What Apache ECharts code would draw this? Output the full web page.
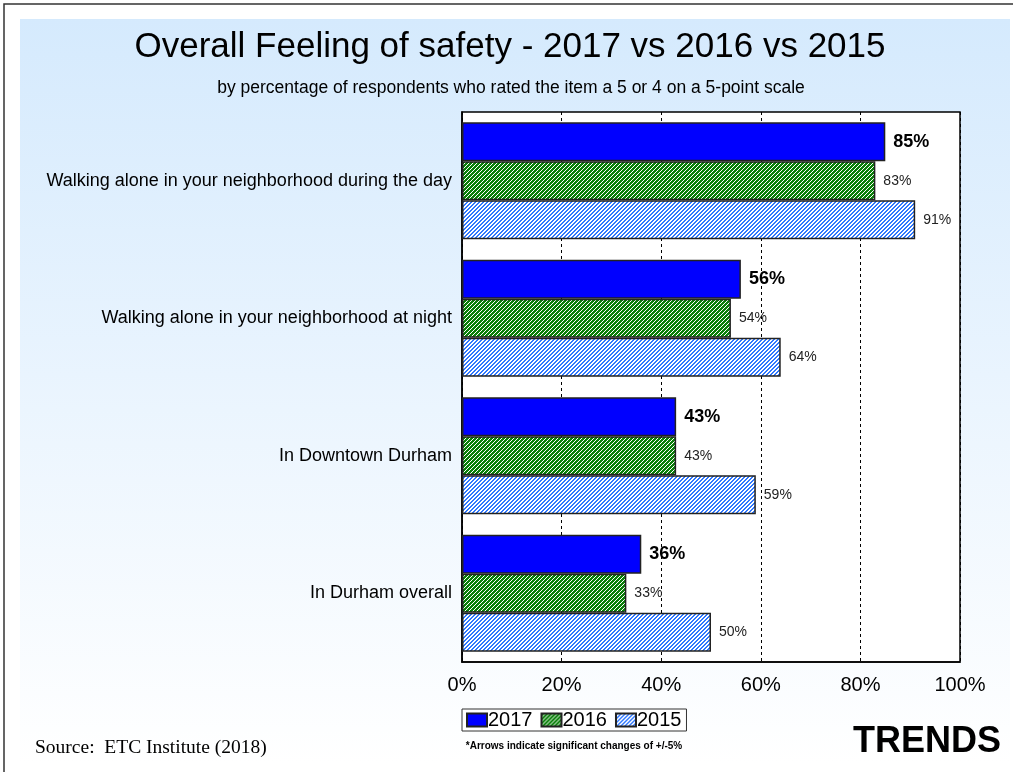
<!DOCTYPE html>
<html>
<head>
<meta charset="utf-8">
<script src="https://cdn.jsdelivr.net/npm/echarts@6/dist/echarts.min.js"></script>
<style>
  html, body { margin: 0; padding: 0; background: #fff; }
  #chart { width: 1013px; height: 772px; }
</style>
</head>
<body>
<div id="chart"></div>
<script>
// survey items, top to bottom
const categories = [
  'Walking alone in your neighborhood during the day',
  'Walking alone in your neighborhood at night',
  'In Downtown Durham',
  'In Durham overall'
]
const years = ['2017', '2016', '2015']
const values2017 = [85, 56, 43, 36]
const values2016 = [83, 54, 43, 33]
const values2015 = [91, 64, 59, 50]
const xTicks = [0, 20, 40, 60, 80, 100]

const FONT = 'Liberation Sans, Arial, sans-serif'

// small diagonal hatch tile for the older years
function hatch(color, fillSteps) {
  const c = document.createElement('canvas')
  c.width = 4
  c.height = 4
  const ctx = c.getContext('2d')
  ctx.fillStyle = '#fff'
  ctx.fillRect(0, 0, 4, 4)
  ctx.fillStyle = color
  for (let x = 0; x < 4; x++) {
    for (let y = 0; y < 4; y++) {
      if ((x + y) % 4 < fillSteps) ctx.fillRect(x, y, 1, 1)
    }
  }
  return { image: c, repeat: 'repeat' }
}

const chart = echarts.init(document.getElementById('chart'), null, { renderer: 'canvas' })

const makeSeries = (name, data, color, bold) => ({
  name,
  type: 'bar',
  data,
  barGap: '0%',
  barCategoryGap: '15%',
  itemStyle: { color, borderColor: '#222', borderWidth: 1.5 },
  label: {
    show: true,
    position: 'right',
    distance: 8,
    formatter: '{c}%',
    color: bold ? '#000' : '#222',
    fontFamily: FONT,
    fontSize: bold ? 18 : 14,
    fontWeight: bold ? 'bold' : 'normal'
  }
})

const option = {
  animation: false,
  graphic: [
    {
      type: 'rect', z: -10, silent: true,
      shape: { x: 4, y: 4, width: 1040, height: 800 },
      style: { fill: '#fff', stroke: '#333', lineWidth: 1.5 }
    },
    {
      type: 'rect', z: -9, silent: true,
      shape: { x: 20, y: 19, width: 990, height: 745 },
      style: {
        fill: new echarts.graphic.LinearGradient(0, 0, 0, 1, [
          { offset: 0, color: '#d5eafd' },
          { offset: 1, color: '#ffffff' }
        ])
      }
    },
    {
      type: 'text', x: 510, y: 47, silent: true,
      style: {
        text: 'Overall Feeling of safety - 2017 vs 2016 vs 2015',
        font: '35px "Liberation Sans", Arial, sans-serif',
        fill: '#000', align: 'center', verticalAlign: 'middle'
      }
    },
    {
      type: 'text', x: 511, y: 88, silent: true,
      style: {
        text: 'by percentage of respondents who rated the item a 5 or 4 on a 5-point scale',
        font: '17.5px "Liberation Sans", Arial, sans-serif',
        fill: '#000', align: 'center', verticalAlign: 'middle'
      }
    },
    {
      type: 'text', x: 574, y: 746, silent: true,
      style: {
        text: '*Arrows indicate significant changes of +/-5%',
        font: 'bold 10px "Liberation Sans", Arial, sans-serif',
        fill: '#000', align: 'center', verticalAlign: 'middle'
      }
    },
    {
      type: 'text', x: 35, y: 748, silent: true,
      style: {
        text: 'Source:  ETC Institute (2018)',
        font: '19.5px "Liberation Serif", "Times New Roman", serif',
        fill: '#000', align: 'left', verticalAlign: 'middle'
      }
    },
    {
      type: 'text', x: 1001, y: 742, silent: true,
      style: {
        text: 'TRENDS',
        font: 'bold 36px "Liberation Sans", Arial, sans-serif',
        fill: '#000', align: 'right', verticalAlign: 'middle'
      }
    }
  ],
  legend: {
    data: years,
    left: 462,
    top: 709,
    orient: 'horizontal',
    icon: 'rect',
    itemWidth: 20,
    itemHeight: 13,
    itemGap: 8,
    padding: [1, 5, 1, 4],
    backgroundColor: '#fff',
    borderColor: '#333',
    borderWidth: 1,
    textStyle: { fontSize: 20, color: '#000', fontFamily: FONT, padding: [0, 0, 0, -4] }
  },
  grid: {
    left: 462, top: 112, width: 498, height: 550,
    show: true, backgroundColor: '#fff', borderColor: '#000', borderWidth: 1.5
  },
  xAxis: {
    type: 'value',
    min: xTicks[0],
    max: xTicks[xTicks.length - 1],
    interval: 20,
    axisLine: { show: true, lineStyle: { color: '#000', width: 1.5 } },
    axisTick: { show: false },
    axisLabel: { formatter: '{value}%', fontSize: 20, color: '#000', margin: 13, fontFamily: FONT },
    splitLine: { show: true, lineStyle: { color: '#000', type: [3, 3], width: 1 } }
  },
  yAxis: {
    type: 'category',
    data: categories,
    inverse: true,
    axisLine: { show: true, lineStyle: { color: '#000', width: 1.5 } },
    axisTick: { show: false },
    axisLabel: { fontSize: 18, color: '#000', margin: 10, fontFamily: FONT }
  },
  series: [
    makeSeries(years[0], values2017, '#0000ff', true),
    makeSeries(years[1], values2016, hatch('#0a7f0a', 3), false),
    makeSeries(years[2], values2015, hatch('#2f78ff', 2), false)
  ]
}

chart.setOption(option)
</script>
</body>
</html>
